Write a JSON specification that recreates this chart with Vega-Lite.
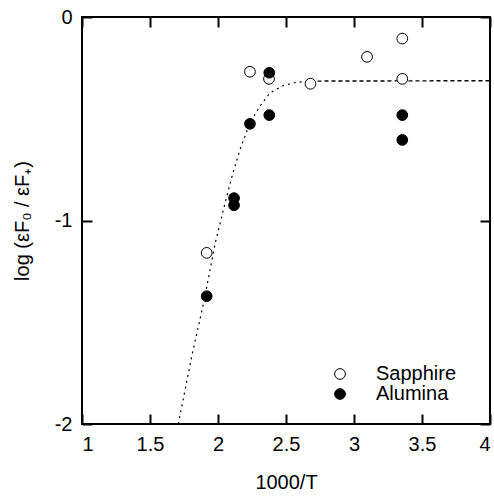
{
  "$schema": "https://vega.github.io/schema/vega-lite/v6.json",
  "width": 408,
  "height": 407,
  "autosize": {"type": "none"},
  "padding": {"left": 82, "top": 17, "right": 4, "bottom": 72},
  "background": "white",
  "config": {
    "font": "Liberation Sans",
    "view": {"stroke": "black", "strokeWidth": 2},
    "axis": {"grid": false, "domain": false, "tickColor": "black", "tickWidth": 2, "tickSize": -10,
      "labelColor": "black", "titleColor": "black", "labelFont": "Liberation Sans", "titleFont": "Liberation Sans",
      "labelFontSize": 20, "titleFontSize": 20, "titleFontWeight": "normal"}
  },
  "datasets": {
    "points": [
      {"x": 1.917, "y": -1.159, "series": "Sapphire"},
      {"x": 2.235, "y": -0.269, "series": "Sapphire"},
      {"x": 2.375, "y": -0.304, "series": "Sapphire"},
      {"x": 2.68, "y": -0.328, "series": "Sapphire"},
      {"x": 3.096, "y": -0.196, "series": "Sapphire"},
      {"x": 3.355, "y": -0.106, "series": "Sapphire"},
      {"x": 3.355, "y": -0.304, "series": "Sapphire"},
      {"x": 1.917, "y": -1.372, "series": "Alumina"},
      {"x": 2.118, "y": -0.89, "series": "Alumina"},
      {"x": 2.118, "y": -0.925, "series": "Alumina"},
      {"x": 2.235, "y": -0.525, "series": "Alumina"},
      {"x": 2.377, "y": -0.274, "series": "Alumina"},
      {"x": 2.377, "y": -0.482, "series": "Alumina"},
      {"x": 3.355, "y": -0.482, "series": "Alumina"},
      {"x": 3.355, "y": -0.604, "series": "Alumina"}
    ],
    "curve": [
      {"x": 1.708, "y": -2.0, "part": "rise"},
      {"x": 1.807, "y": -1.667, "part": "rise"},
      {"x": 1.896, "y": -1.4, "part": "rise"},
      {"x": 1.98, "y": -1.11, "part": "rise"},
      {"x": 2.05, "y": -0.92, "part": "rise"},
      {"x": 2.108, "y": -0.77, "part": "rise"},
      {"x": 2.162, "y": -0.651, "part": "rise"},
      {"x": 2.235, "y": -0.52, "part": "rise"},
      {"x": 2.309, "y": -0.438, "part": "rise"},
      {"x": 2.382, "y": -0.373, "part": "rise"},
      {"x": 2.48, "y": -0.337, "part": "rise"},
      {"x": 2.578, "y": -0.321, "part": "rise"},
      {"x": 2.68, "y": -0.315, "part": "rise"},
      {"x": 2.68, "y": -0.315, "part": "flat"},
      {"x": 4.0, "y": -0.313, "part": "flat"}
    ]
  },
  "layer": [
    {
      "data": {"name": "curve"},
      "transform": [{"filter": "datum.part === 'rise'"}],
      "mark": {"type": "line", "color": "black", "strokeWidth": 1.2, "strokeDash": [2, 4]},
      "encoding": {
        "x": {"field": "x", "type": "quantitative", "scale": {"domain": [1, 4], "nice": false, "zero": false},
          "axis": {"orient": "top", "labels": false, "title": null, "values": [1, 1.5, 2, 2.5, 3, 3.5, 4]}},
        "y": {"field": "y", "type": "quantitative", "scale": {"domain": [-2, 0], "nice": false, "zero": false},
          "axis": {"orient": "right", "labels": false, "title": null, "values": [-2, -1, 0]}}
      }
    },
    {
      "data": {"name": "curve"},
      "transform": [{"filter": "datum.part === 'flat'"}],
      "mark": {"type": "line", "color": "black", "strokeWidth": 1.4, "strokeDash": [4, 3], "clip": true},
      "encoding": {
        "x": {"field": "x", "type": "quantitative", "axis": null},
        "y": {"field": "y", "type": "quantitative", "axis": null}
      }
    },
    {
      "data": {"name": "points"},
      "mark": {"type": "point", "shape": "circle", "filled": true, "stroke": "black", "strokeWidth": 1, "size": 115, "opacity": 1},
      "encoding": {
        "x": {"field": "x", "type": "quantitative",
          "axis": {"orient": "bottom", "title": "1000/T", "values": [1, 1.5, 2, 2.5, 3, 3.5, 4], "labelPadding": 20, "titlePadding": 18, "format": "~g"}},
        "y": {"field": "y", "type": "quantitative",
          "axis": {"orient": "left", "title": "log (εF₀ / εF₊)", "values": [-2, -1, 0], "labelPadding": 20, "titlePadding": 22, "format": "~g",
            "labelExpr": "replace(datum.label, '−', '-')"}},
        "fill": {"field": "series", "type": "nominal",
          "scale": {"domain": ["Sapphire", "Alumina"], "range": ["white", "black"]},
          "legend": {"title": null, "orient": "none", "legendX": 248, "legendY": 347, "labelFontSize": 20, "labelColor": "black",
            "symbolType": "circle", "symbolSize": 115, "symbolStrokeColor": "black", "symbolStrokeWidth": 1, "labelOffset": 26, "rowPadding": 0, "padding": 0}}
      }
    }
  ],
  "resolve": {"axis": {"x": "independent", "y": "independent"}}
}
